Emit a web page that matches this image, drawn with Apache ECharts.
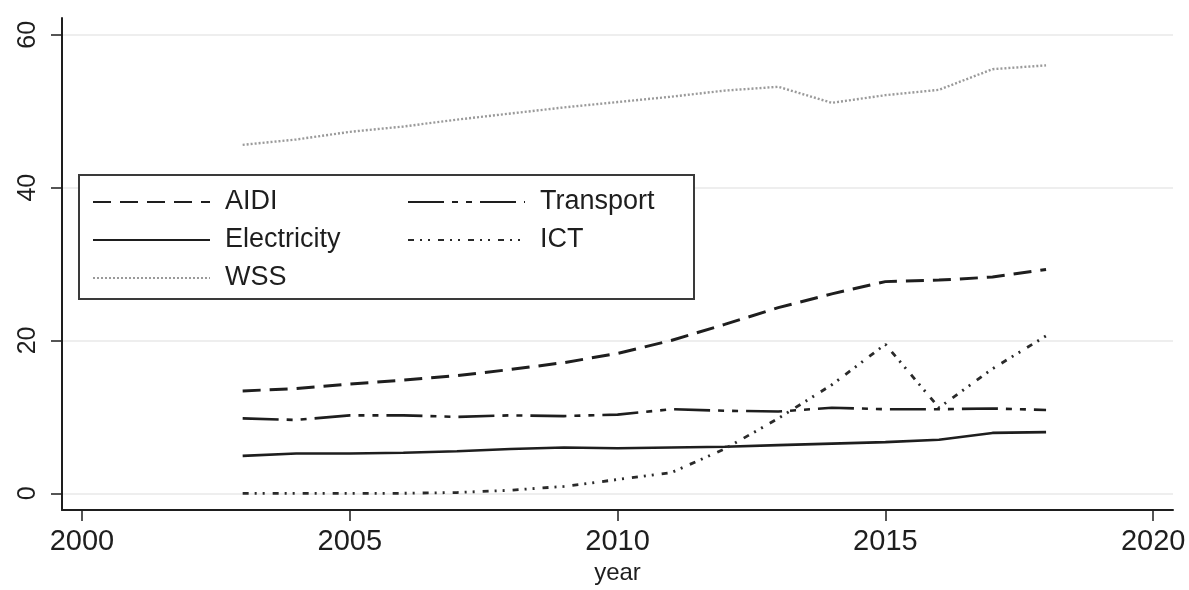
<!DOCTYPE html>
<html>
<head>
<meta charset="utf-8">
<script src="https://cdn.jsdelivr.net/npm/echarts@6/dist/echarts.min.js"></script>
<style>
  html, body { margin: 0; padding: 0; background: #ffffff; }
  #chart { width: 1189px; height: 590px; }
</style>
</head>
<body>
<div id="chart"></div>
<script>
// Infrastructure indices by year
const years = [2003, 2004, 2005, 2006, 2007, 2008, 2009, 2010, 2011, 2012, 2013, 2014, 2015, 2016, 2017, 2018];
const aidi        = [13.4, 13.7, 14.3, 14.8, 15.4, 16.2, 17.1, 18.3, 20.0, 22.1, 24.3, 26.1, 27.7, 27.9, 28.3, 29.3];
const transport   = [9.8, 9.6, 10.2, 10.2, 10.0, 10.2, 10.1, 10.3, 11.0, 10.8, 10.7, 11.2, 11.0, 11.0, 11.1, 10.9];
const electricity = [4.9, 5.2, 5.2, 5.3, 5.5, 5.8, 6.0, 5.9, 6.0, 6.1, 6.3, 6.5, 6.7, 7.0, 7.9, 8.0];
const ict         = [0.0, 0.0, 0.0, 0.0, 0.1, 0.4, 0.9, 1.8, 2.7, 5.8, 9.8, 14.2, 19.5, 11.2, 16.3, 20.6];
const wss         = [45.6, 46.3, 47.3, 48.0, 48.9, 49.7, 50.5, 51.2, 51.9, 52.7, 53.2, 51.1, 52.1, 52.8, 55.5, 56.0];

const xTicks = [2000, 2005, 2010, 2015, 2020];
const yTicks = [0, 20, 40, 60];

const ink = '#1e1e1e';
const font = 'Liberation Sans, Arial, sans-serif';

function pairs(vals) {
  return years.map((y, i) => [y, vals[i]]);
}

function lineSeries(name, vals, style) {
  return {
    name: name,
    type: 'line',
    data: pairs(vals),
    symbol: 'none',
    showSymbol: false,
    silent: true,
    animation: false,
    lineStyle: style,
    z: 3
  };
}

const chart = echarts.init(document.getElementById('chart'), null, { renderer: 'canvas' });

const legendCommon = {
  orient: 'vertical',
  padding: 0,
  itemGap: 8,
  itemWidth: 117,
  itemHeight: 14,
  selectedMode: false,
  z: 10,
  itemStyle: { opacity: 0, borderWidth: 0 },
  textStyle: {
    fontFamily: font,
    fontSize: 27,
    color: ink,
    lineHeight: 30,
    padding: [0, 0, 0, 10]
  }
};

chart.setOption({
  backgroundColor: '#ffffff',
  animation: false,
  grid: { left: 62, right: 16, top: 18, bottom: 71, containLabel: false },
  xAxis: {
    type: 'value',
    min: 1999.627,
    max: 2020.37,
    name: 'year',
    nameLocation: 'middle',
    nameGap: 47,
    nameTextStyle: { fontFamily: font, fontSize: 24, color: ink },
    axisLine: { show: true, onZero: false, lineStyle: { color: ink, width: 2 } },
    axisTick: { show: true, length: 11, customValues: xTicks, lineStyle: { color: ink, width: 1.5 } },
    axisLabel: {
      customValues: xTicks,
      margin: 17,
      fontFamily: font,
      fontSize: 29,
      color: ink,
      formatter: v => String(Math.round(v))
    },
    splitLine: { show: false }
  },
  yAxis: {
    type: 'value',
    min: -2.2,
    max: 62.2,
    axisLine: { show: true, onZero: false, lineStyle: { color: ink, width: 2 } },
    axisTick: { show: true, length: 11, customValues: yTicks, lineStyle: { color: ink, width: 1.5 } },
    axisLabel: {
      customValues: yTicks,
      rotate: 90,
      margin: 21,
      fontFamily: font,
      fontSize: 25,
      color: ink,
      formatter: v => String(Math.round(v))
    },
    splitLine: { show: true, lineStyle: { color: '#eeeeee', width: 2 } }
  },
  graphic: [{
    type: 'rect',
    z: 5,
    shape: { x: 79, y: 175, width: 615, height: 124 },
    style: { fill: '#ffffff', stroke: '#3a3a3a', lineWidth: 2 }
  }],
  legend: [
    Object.assign({}, legendCommon, { left: 92, top: 187, data: ['AIDI', 'Electricity', 'WSS'] }),
    Object.assign({}, legendCommon, { left: 407, top: 187, data: ['Transport', 'ICT'] })
  ],
  series: [
    lineSeries('AIDI', aidi, { color: ink, width: 3, type: [18, 9] }),
    lineSeries('Transport', transport, { color: ink, width: 2.6, type: [36, 8, 6, 8, 6, 8] }),
    lineSeries('Electricity', electricity, { color: ink, width: 2.6, type: 'solid' }),
    lineSeries('ICT', ict, { color: '#2a2a2a', width: 2.8, type: [6, 6, 2, 6, 2, 8] }),
    lineSeries('WSS', wss, { color: '#9a9a9a', width: 2.4, type: [2, 2] })
  ]
});
</script>
</body>
</html>
